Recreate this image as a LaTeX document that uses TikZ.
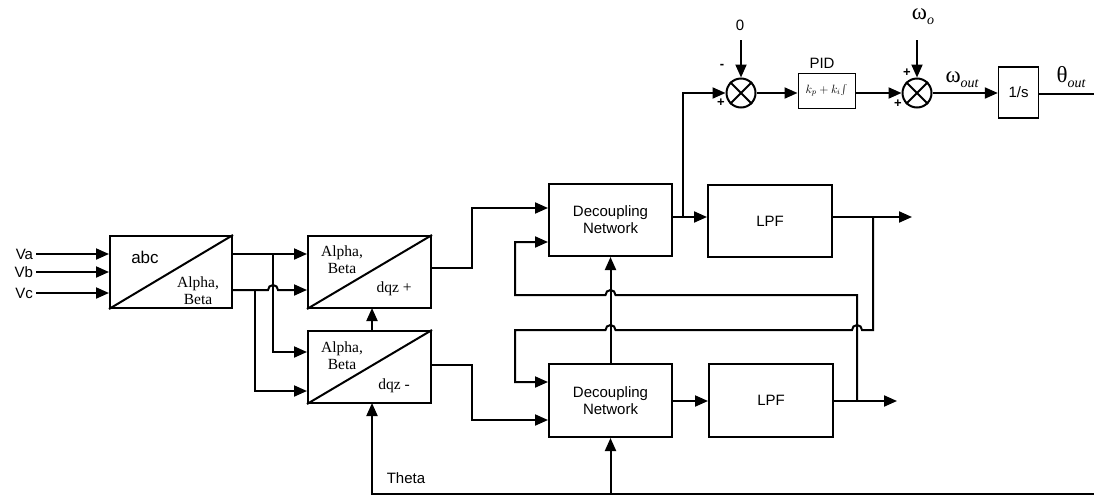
\documentclass[tikz,border=0pt]{standalone}
\usepackage{fontspec}
\setmainfont{Liberation Serif}
\setsansfont{Liberation Sans}
\usetikzlibrary{arrows.meta}
\begin{document}
\begin{tikzpicture}[x=1pt,y=-1pt,
  line width=2pt,
  arr/.style={-{Triangle[length=13pt,width=11pt]}},
  blk/.style={draw,rectangle,inner sep=0pt},
  sumnode/.style={draw,circle,minimum size=29pt,inner sep=0pt},
  sans/.style={font=\sffamily\fontsize{15}{17}\selectfont},
  serif/.style={font=\rmfamily\fontsize{15.5}{17}\selectfont},
  sign/.style={font=\sffamily\bfseries\fontsize{13}{13}\selectfont,inner sep=0pt}]
\useasboundingbox (0,0) rectangle (1094,498);
% blocks
\node[blk,minimum width=122pt,minimum height=72pt] (abc) at (171,272) {};
\node[blk,minimum width=123pt,minimum height=72pt] (ABp) at (369.5,272) {};
\node[blk,minimum width=123pt,minimum height=72pt] (ABm) at (369.5,367) {};
\node[blk,minimum width=123pt,minimum height=72pt,sans,align=center] (DN1) at (610.5,220) {Decoupling\\Network};
\node[blk,minimum width=123pt,minimum height=73pt,sans,align=center] (DN2) at (610.5,400.5) {Decoupling\\Network};
\node[blk,minimum width=124pt,minimum height=72pt,sans] (LPF1) at (770,221) {LPF};
\node[blk,minimum width=124pt,minimum height=73pt,sans] (LPF2) at (771,400.5) {LPF};
\draw (abc.south west) -- (abc.north east);
\draw (ABp.south west) -- (ABp.north east);
\draw (ABm.south west) -- (ABm.north east);
% block texts
\node[font=\sffamily\fontsize{17}{18}\selectfont] (tabc) at (145,257) {abc};
\node[serif,align=center] (tab1) at (198,291) {Alpha,\\Beta};
\node[serif,align=center] (tab2) at (342,260) {Alpha,\\Beta};
\node[serif] (tdp) at (394,289) {dqz +};
\node[serif,align=center] (tab3) at (342,356) {Alpha,\\Beta};
\node[serif] (tdm) at (394,386) {dqz -};
% inputs
\node[sans,anchor=east,inner sep=2pt] (Va) at (36,254) {Va};
\node[sans,anchor=east,inner sep=2pt] (Vb) at (36,272) {Vb};
\node[sans,anchor=east,inner sep=2pt] (Vc) at (36,293) {Vc};
\draw[arr] (Va.east) -- (abc.west |- Va.east);
\draw[arr] (Vb.east) -- (abc.west |- Vb.east);
\draw[arr] (Vc.east) -- (abc.west |- Vc.east);
% abc outputs
\draw[arr] (abc.east |- 0,254) -- (ABp.west |- 0,254);
\draw[arr] (abc.east |- 0,290) -- (268,290) arc(180:360:5) -- (ABp.west |- 0,290);
\draw[arr] (273,254) -- (273,352) -- (ABm.west |- 0,352);
\draw[arr] (255,290) -- (255,391) -- (ABm.west |- 0,391);
% dqz- to dqz+
\draw[arr] (372,331) -- (372,308);
% dqz outputs to DN
\draw[arr] (ABp.east |- 0,268) -- (472,268) -- (472,208) -- (DN1.west |- 0,208);
\draw[arr] (ABm.east |- 0,365) -- (472,365) -- (472,420) -- (DN2.west |- 0,420);
% DN to LPF
\draw[arr] (DN1.east |- 0,217) -- (LPF1.west |- 0,217);
\draw[arr] (DN2.east |- 0,401) -- (LPF2.west |- 0,401);
\coordinate (o1) at (912,217);
\coordinate (o2) at (897,401);
\draw[arr] (LPF1.east |- 0,217) -- (o1);
\draw[arr] (LPF2.east |- 0,401) -- (o2);
% DN2 to DN1
\draw[arr] (DN2.north) -- (DN1.south);
% cross loops
\draw[arr] (873,217) -- (873,330) -- (862,330) arc(0:-180:5) -- (615.5,330) arc(0:-180:5) -- (515,330) -- (515,382) -- (DN2.west |- 0,382);
\draw[arr] (857,401) -- (857,295) -- (615.5,295) arc(0:-180:5) -- (515,295) -- (515,242) -- (DN1.west |- 0,242);
% theta
\coordinate (thE) at (1094,494);
\draw[arr] (thE) -- (372,494) -- (372,403);
\draw[arr] (DN2.south |- thE) -- (DN2.south);
\node[sans] (theta) at (406,478) {Theta};
% PLL
\node[sumnode] (s1) at (741,93) {};
\draw (s1.north west) -- (s1.south east) (s1.north east) -- (s1.south west);
\node[sumnode] (s2) at (917,93) {};
\draw (s2.north west) -- (s2.south east) (s2.north east) -- (s2.south west);
\node[blk,minimum width=57pt,minimum height=35pt,line width=1pt] (pid) at (826.5,90.5) {\fontsize{11.5}{12}\selectfont$k_{p}+k_{i}\!\int$};
\node[sans] (pidl) at (822,63) {PID};
\node[blk,minimum width=40pt,minimum height=51pt,sans,line width=1.4pt] (integ) at (1018.5,92.5) {1/s};
\draw[arr] (683,217) -- (683,93) -- (s1.west);
\node[sans] (zero) at (740,25) {0};
\draw[arr] (741,40) -- (s1.north);
\node[sign] (m1) at (722,66) {-};
\node[sign] (p1) at (721,103) {+};
\draw[arr] (s1.east) -- (pid.west |- s1.east);
\draw[arr] (pid.east |- s2.west) -- (s2.west);
\node[sign] (p2) at (907,73) {+};
\node[sign] (p3) at (898,104) {+};
\node[font=\rmfamily] (wo) at (923,17) {\fontsize{23}{23}\selectfont ω\raisebox{-5pt}{\fontsize{14}{14}\selectfont\itshape o}};
\draw[arr] (917,40) -- (s2.north);
\draw[arr] (s2.east) -- (integ.west |- s2.east);
\node[font=\rmfamily] (wout) at (962,80) {\fontsize{23}{23}\selectfont ω\raisebox{-5pt}{\fontsize{14}{14}\selectfont\itshape out}};
\node[font=\rmfamily] (thout) at (1071,77) {\fontsize{23}{23}\selectfont θ\raisebox{-5pt}{\fontsize{14}{14}\selectfont\itshape out}};
\coordinate (pllE) at (1094,94);
\draw (integ.east |- pllE) -- (pllE);
\end{tikzpicture}
\end{document}
